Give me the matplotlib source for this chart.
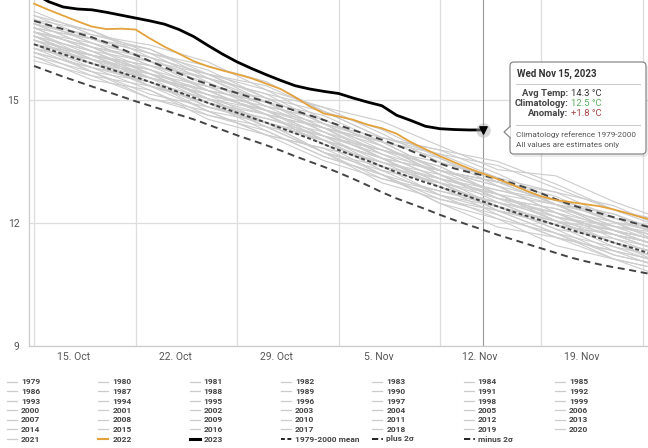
import matplotlib
matplotlib.use("Agg")
import matplotlib.pyplot as plt
from matplotlib.patches import FancyBboxPatch, Polygon
from matplotlib.lines import Line2D

plt.rcParams['font.family'] = ['Roboto', 'DejaVu Sans']

# --- data (x = days after 15 Oct) -------------------------------------------
days = list(range(44))
sample_days = list(range(0, 45, 4))          # gray years read every 4 days

year_2023 = [17.6, 17.4, 17.27, 17.22, 17.2, 17.14, 17.07, 17.0, 16.93, 16.85,
             16.72, 16.55, 16.33, 16.12, 15.93, 15.77, 15.62, 15.48, 15.35,
             15.27, 15.21, 15.16, 15.05, 14.95, 14.86, 14.63, 14.5, 14.36,
             14.3, 14.28, 14.27, 14.27]

year_2022 = [17.35, 17.2, 17.06, 16.92, 16.79, 16.73, 16.74, 16.72, 16.5, 16.3,
             16.13, 15.95, 15.82, 15.72, 15.63, 15.53, 15.4, 15.27, 15.07,
             14.85, 14.67, 14.6, 14.52, 14.4, 14.31, 14.18, 13.97, 13.8, 13.63,
             13.48, 13.33, 13.2, 13.07, 12.93, 12.78, 12.65, 12.56, 12.51,
             12.46, 12.41, 12.33, 12.23, 12.13, 12.05]

clim_mean = [16.36, 16.24, 16.12, 16.0, 15.89, 15.78, 15.67, 15.56, 15.44,
             15.32, 15.19, 15.06, 14.93, 14.81, 14.69, 14.57, 14.45, 14.32,
             14.19, 14.06, 13.92, 13.78, 13.65, 13.52, 13.38, 13.24, 13.11,
             12.99, 12.88, 12.76, 12.64, 12.52, 12.4, 12.28, 12.17, 12.06,
             11.95, 11.84, 11.73, 11.63, 11.52, 11.42, 11.31, 11.21]

plus_2sd = [16.93, 16.83, 16.73, 16.63, 16.53, 16.4, 16.25, 16.1, 15.95, 15.8,
            15.65, 15.5, 15.39, 15.28, 15.17, 15.06, 14.96, 14.85, 14.74,
            14.63, 14.51, 14.39, 14.27, 14.15, 14.03, 13.9, 13.76, 13.61,
            13.45, 13.33, 13.24, 13.16, 13.07, 12.97, 12.85, 12.72, 12.58,
            12.45, 12.34, 12.24, 12.14, 12.04, 11.94, 11.85]

minus_2sd = [15.83, 15.7, 15.57, 15.45, 15.33, 15.21, 15.09, 14.97, 14.86,
             14.75, 14.64, 14.53, 14.4, 14.27, 14.14, 14.02, 13.9, 13.77,
             13.63, 13.5, 13.37, 13.23, 13.08, 12.92, 12.75, 12.6, 12.47,
             12.34, 12.2, 12.07, 11.95, 11.83, 11.71, 11.6, 11.49, 11.38,
             11.27, 11.16, 11.07, 10.99, 10.92, 10.86, 10.79, 10.73]

gray_years = {
    1979: [16.16, 15.79, 15.44, 14.73, 14.15, 13.82, 13.48, 12.88, 12.20, 11.65, 11.32, 11.01],
    1980: [16.46, 16.09, 15.44, 14.83, 14.55, 14.12, 13.38, 12.68, 12.30, 12.05, 11.52, 10.91],
    1981: [16.66, 15.99, 15.34, 14.93, 14.65, 14.02, 13.28, 12.98, 12.70, 12.15, 11.52, 11.21],
    1982: [16.06, 15.49, 15.24, 14.63, 14.35, 13.72, 12.98, 12.58, 12.20, 11.65, 11.12, 10.81],
    1983: [16.36, 15.69, 15.14, 14.83, 14.45, 13.72, 13.28, 12.98, 12.40, 11.85, 11.62, 11.31],
    1984: [15.96, 15.59, 15.34, 14.93, 14.25, 13.62, 13.18, 12.48, 11.90, 11.65, 11.32, 10.81],
    1985: [16.16, 15.59, 15.04, 14.73, 14.15, 13.52, 13.08, 12.68, 12.10, 11.45, 11.12, 10.81],
    1986: [16.46, 15.89, 15.64, 15.03, 14.35, 13.72, 13.38, 12.98, 12.30, 11.75, 11.42, 11.11],
    1987: [16.26, 15.99, 15.54, 15.13, 14.45, 14.02, 13.58, 12.88, 12.50, 12.25, 11.72, 11.21],
    1988: [16.56, 15.99, 15.34, 14.73, 14.45, 14.02, 13.28, 12.68, 12.40, 12.05, 11.42, 10.91],
    1989: [16.26, 15.69, 15.44, 15.03, 14.65, 13.92, 13.18, 12.78, 12.50, 11.95, 11.32, 11.01],
    1990: [16.56, 16.19, 15.54, 15.13, 14.75, 14.12, 13.48, 13.08, 12.70, 12.05, 11.72, 11.41],
    1991: [16.36, 15.99, 15.64, 14.93, 14.35, 14.02, 13.58, 12.98, 12.30, 11.95, 11.72, 11.21],
    1992: [16.06, 15.69, 15.04, 14.63, 14.25, 13.62, 13.18, 12.48, 12.10, 11.75, 11.12, 10.61],
    1993: [16.16, 15.79, 15.24, 14.53, 14.15, 13.82, 13.18, 12.58, 12.30, 11.75, 11.22, 10.91],
    1994: [16.46, 16.09, 15.74, 15.03, 14.45, 14.12, 13.68, 13.08, 12.40, 12.05, 11.52, 11.21],
    1995: [16.56, 15.89, 15.54, 15.23, 14.65, 13.92, 13.48, 13.18, 12.60, 12.05, 11.82, 11.31],
    1996: [16.26, 15.89, 15.34, 15.03, 14.45, 13.72, 13.08, 12.78, 12.40, 11.85, 11.22, 10.91],
    1997: [16.36, 15.79, 15.54, 15.13, 14.75, 14.32, 13.58, 12.98, 12.60, 12.25, 11.62, 11.11],
    1998: [16.66, 16.29, 15.64, 15.03, 14.75, 14.12, 13.78, 13.18, 12.50, 12.15, 11.82, 11.31],
    1999: [16.46, 15.89, 15.34, 14.93, 14.55, 14.22, 13.58, 12.88, 12.50, 11.95, 11.72, 11.41],
    2000: [16.36, 16.09, 15.54, 14.83, 14.45, 14.02, 13.38, 13.08, 12.70, 12.05, 11.52, 11.01],
    2001: [16.66, 16.09, 15.84, 15.23, 14.65, 14.32, 13.88, 13.18, 12.60, 12.35, 11.82, 11.31],
    2002: [16.56, 16.19, 15.64, 15.33, 14.75, 14.02, 13.58, 13.28, 12.90, 12.25, 11.72, 11.41],
    2003: [16.76, 16.19, 15.64, 15.23, 14.95, 14.32, 13.68, 13.08, 12.80, 12.45, 11.82, 11.51],
    2004: [16.46, 16.09, 15.84, 15.43, 14.75, 14.12, 13.78, 13.38, 12.70, 12.15, 11.92, 11.41],
    2005: [16.86, 16.29, 15.74, 15.33, 15.05, 14.42, 13.78, 13.48, 13.10, 12.45, 11.92, 11.61],
    2006: [16.66, 16.39, 16.04, 15.33, 14.75, 14.42, 13.98, 13.28, 12.90, 12.55, 12.22, 11.61],
    2007: [16.76, 16.19, 15.94, 15.53, 14.85, 14.22, 13.58, 13.28, 13.00, 12.45, 11.82, 11.51],
    2008: [16.56, 15.99, 15.74, 15.13, 14.85, 14.52, 13.88, 13.18, 12.60, 12.35, 12.02, 11.41],
    2009: [16.36, 16.09, 15.54, 15.23, 14.65, 14.32, 13.98, 13.58, 12.90, 12.25, 11.92, 11.71],
    2010: [16.96, 16.39, 15.84, 15.53, 14.95, 14.22, 13.78, 13.38, 12.70, 12.15, 11.82, 11.51],
    2011: [16.86, 16.49, 16.14, 15.43, 14.85, 14.52, 13.88, 13.18, 12.80, 12.55, 12.02, 11.51],
    2012: [16.76, 16.49, 15.94, 15.23, 14.95, 14.62, 13.98, 13.28, 12.70, 12.45, 12.12, 11.61],
    2013: [16.66, 16.29, 16.04, 15.63, 14.95, 14.32, 13.98, 13.68, 13.10, 12.45, 11.92, 11.61],
    2014: [16.86, 16.29, 15.94, 15.63, 15.25, 14.52, 13.88, 13.28, 13.00, 12.65, 12.02, 11.71],
    2015: [17.06, 16.49, 16.24, 15.63, 15.05, 14.72, 14.28, 13.58, 13.00, 12.75, 12.42, 11.81],
    2016: [16.96, 16.69, 16.14, 15.83, 15.45, 14.72, 14.08, 13.78, 13.50, 12.95, 12.32, 12.01],
    2017: [16.86, 16.59, 16.24, 15.53, 15.15, 14.82, 14.18, 13.48, 13.10, 12.75, 12.12, 11.81],
    2018: [16.96, 16.39, 15.84, 15.53, 15.15, 14.42, 13.68, 13.28, 13.00, 12.45, 12.22, 11.71],
    2019: [16.76, 16.49, 16.14, 15.73, 15.05, 14.42, 14.08, 13.78, 13.20, 12.55, 12.02, 11.81],
    2020: [17.16, 16.59, 16.34, 15.93, 15.25, 14.82, 14.48, 13.88, 13.30, 13.15, 12.52, 12.01],
    2021: [17.06, 16.69, 16.04, 15.63, 15.35, 14.72, 14.08, 13.68, 13.40, 12.85, 12.32, 11.81],
}

week_days = [0, 7, 14, 21, 28, 35, 42]
week_labels = ['15. Oct', '22. Oct', '29. Oct', '5. Nov', '12. Nov', '19. Nov']
y_ticks = [9, 12, 15]

hover_day = 31
tip_title = 'Wed Nov 15, 2023'
tip_rows = [('Avg Temp:', '14.3 °C', '#333333'),
            ('Climatology:', '12.5 °C', '#5cae5c'),
            ('Anomaly:', '+1.8 °C', '#a84545')]
tip_notes = ['Climatology reference 1979-2000', 'All values are estimates only']

ORANGE = '#e3a23c'
GRAY = '#cccccc'
DASH = '#444444'
MEAN_DASH = (2.0, 1.3)
SD_DASH = (3.6, 2.4)
SD_LEGEND_DASH = (3.2, 1.6, 0.8, 1.6)

# --- chart --------------------------------------------------------------------
fig = plt.figure(figsize=(6.48, 4.48), dpi=100)
ax = fig.add_axes([29 / 648, 1 - 346 / 448, 1 - 29 / 648, 346 / 448])

for yr, vals in gray_years.items():
    ax.plot(sample_days, vals, color=GRAY, lw=0.8, zorder=2)

ax.plot(days, plus_2sd, color=DASH, lw=1.4, dashes=SD_DASH, zorder=3)
ax.plot(days, minus_2sd, color=DASH, lw=1.4, dashes=SD_DASH, zorder=3)
ax.plot(days, clim_mean, color=DASH, lw=1.4, dashes=MEAN_DASH, zorder=3)
ax.plot(days, year_2022, color=ORANGE, lw=1.3, zorder=4)
ax.plot(days[:len(year_2023)], year_2023, color='black', lw=2.0, zorder=5,
        solid_capstyle='round')

# hover crosshair + marker
ax.axvline(hover_day, color='#999999', lw=0.8, zorder=1)
ax.scatter([hover_day], [year_2023[hover_day]], s=110, color='#aaaaaa',
           alpha=0.45, zorder=6, linewidths=0)
ax.scatter([hover_day], [year_2023[hover_day]], s=28, marker='v',
           color='black', zorder=7)

ax.set_xlim(-0.35, 42.35)
ax.set_ylim(9, 17.44)
ax.set_yticks(y_ticks)
ax.set_xticks(week_days)
ax.set_xticklabels([])
ax.set_xticks([d + 2.75 for d in week_days[:len(week_labels)]], minor=True)
ax.set_xticklabels(week_labels, minor=True)
ax.tick_params(axis='x', which='both', length=0)
ax.tick_params(axis='x', which='minor', pad=4, labelsize=7.5, labelcolor='#555555')
ax.tick_params(axis='y', length=0, pad=7, labelsize=7.5, labelcolor='#555555')
ax.grid(True, which='major', color='#dddddd', lw=0.9)
ax.set_axisbelow(True)
for side in ['top', 'right']:
    ax.spines[side].set_visible(False)
for side in ['left', 'bottom']:
    ax.spines[side].set_color('#cccccc')
    ax.spines[side].set_linewidth(0.9)

# --- overlay in pixel units for tooltip and legend --------------------------
ov = fig.add_axes([0, 0, 1, 1], zorder=10)
ov.set_xlim(0, 648)
ov.set_ylim(448, 0)
ov.set_axis_off()
ov.patch.set_visible(False)

# tooltip box with shadow
ov.add_patch(FancyBboxPatch((512, 64), 136, 93, boxstyle='round,pad=0,rounding_size=4',
                            fc='#000000', ec='none', alpha=0.08))
ov.add_patch(FancyBboxPatch((510, 62), 136, 92, boxstyle='round,pad=0,rounding_size=4',
                            fc='white', ec='#8a8a8a', lw=0.9))
ov.add_patch(Polygon([[510.6, 126], [504, 132], [510.6, 138]], closed=False,
                     fc='white', ec='#8a8a8a', lw=0.9))
ov.text(517, 74, tip_title, fontsize=7, fontweight='bold', color='#333333', va='center')
ov.plot([516, 640], [84, 84], color='#cccccc', lw=0.8)
for i, (lab, val, col) in enumerate(tip_rows):
    y = 94 + 10 * i
    ov.text(568, y, lab, fontsize=6.8, fontweight='bold', color='#444444',
            ha='right', va='center')
    ov.text(571, y, val, fontsize=6.8, color=col, ha='left', va='center')
ov.plot([516, 640], [125, 125], color='#cccccc', lw=0.8)
for i, note in enumerate(tip_notes):
    ov.text(516, 135 + 9.5 * i, note, fontsize=5.9, color='#555555', va='center')

# legend: 7 columns, filled row by row
entries = [(str(y), dict(color=GRAY, lw=0.9), 10) for y in gray_years]
entries.append(('2022', dict(color=ORANGE, lw=1.5), 10))
entries.append(('2023', dict(color='black', lw=2.2), 10))
entries.append(('1979-2000 mean', dict(color='#222222', lw=1.4, dashes=MEAN_DASH), 12))
entries.append(('plus 2σ', dict(color='#222222', lw=1.4, dashes=SD_LEGEND_DASH), 12))
entries.append(('minus 2σ', dict(color='#222222', lw=1.4, dashes=SD_LEGEND_DASH), 12))

for i, (label, style, length) in enumerate(entries):
    row, col = divmod(i, 7)
    x0 = 7 + 91.3 * col
    y0 = 382 + 9.5 * row
    ov.add_line(Line2D([x0, x0 + length], [y0, y0], **style))
    ov.text(x0 + 14, y0, label, fontsize=6, fontweight='bold', color='#444444',
            va='center', ha='left')

fig.savefig('out.png', dpi=100)
